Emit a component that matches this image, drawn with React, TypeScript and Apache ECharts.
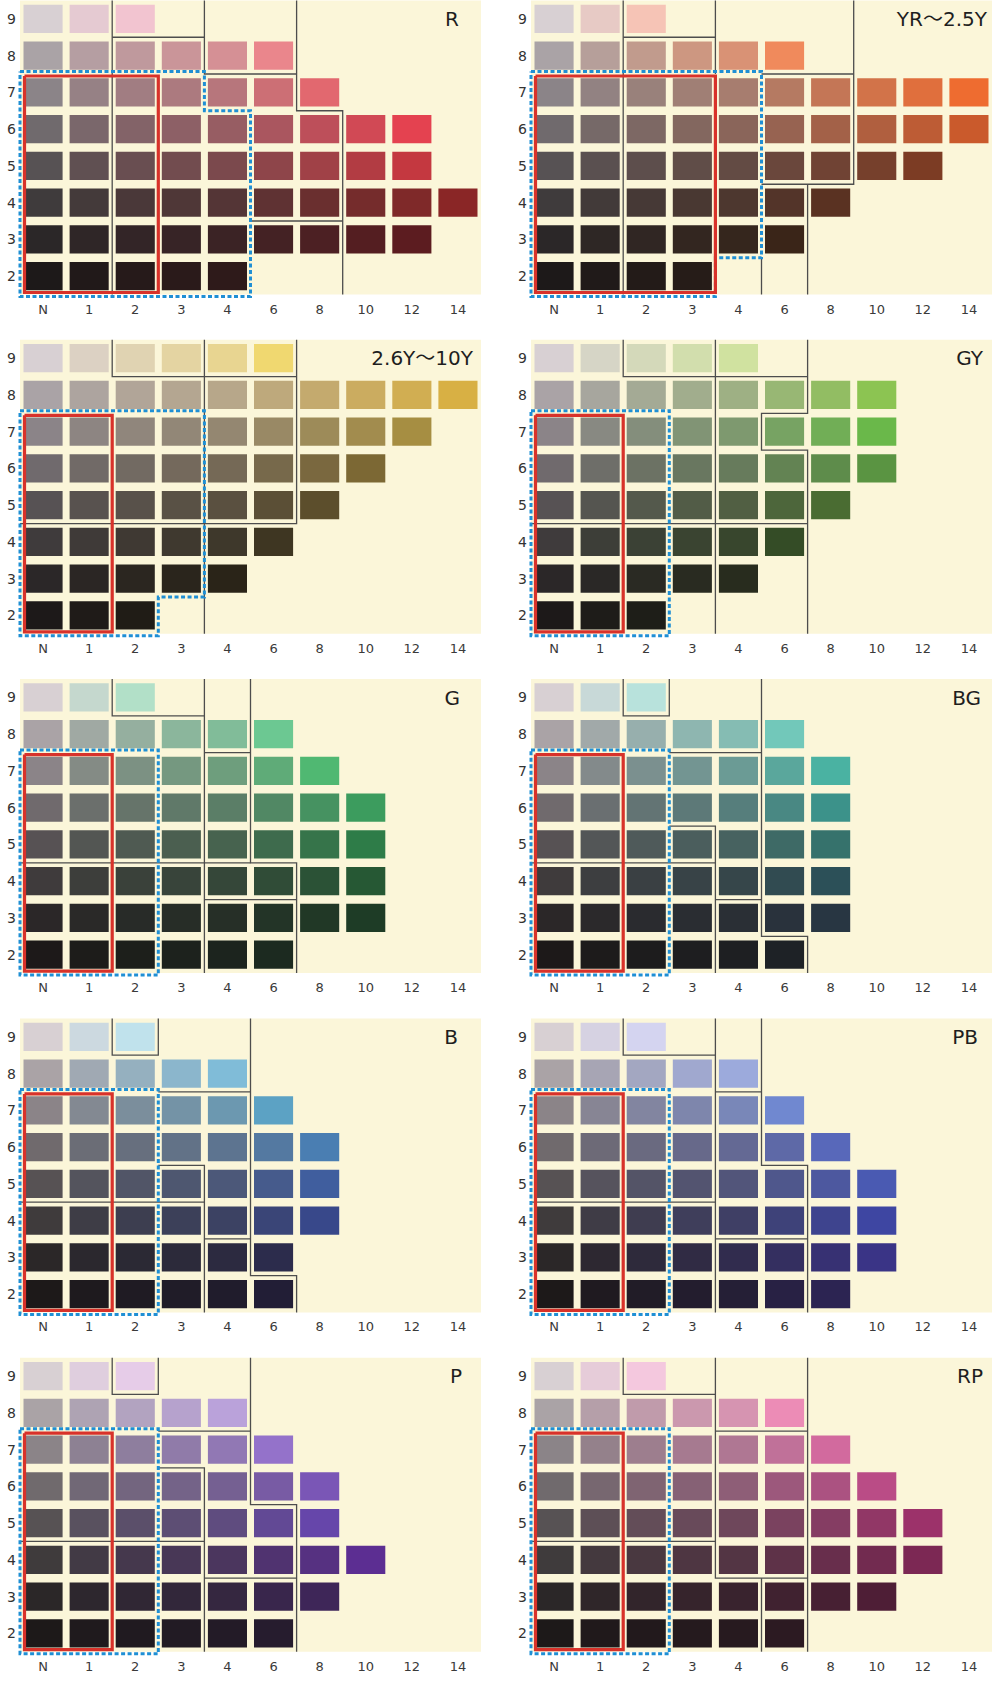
import React, { useEffect, useRef } from 'react';
import * as echarts from 'echarts';

// ---------- data ----------
const chromaLabels = ['N', '1', '2', '3', '4', '6', '8', '10', '12', '14'];
const chromaSteps = [0, 1, 2, 3, 4, 6, 8, 10, 12, 14];
const valueLevels = [9, 8, 7, 6, 5, 4, 3, 2];
const neutralColors = ['#d8d0d3', '#aaa3a6', '#8b8488', '#706a6d', '#575254', '#3f3b3c', '#2b2728', '#1d1919'];

const panelNames = ['R', 'YR～2.5Y', '2.6Y～10Y', 'GY', 'G', 'BG', 'B', 'PB', 'P', 'RP'];

// maximum chroma present for values 9..2
const maxChromaR = [2, 6, 8, 12, 12, 14, 12, 4];
const maxChromaYR = [2, 6, 14, 14, 12, 8, 6, 3];
const maxChromaY = [6, 14, 12, 10, 8, 6, 4, 2];
const maxChromaGY = [4, 10, 10, 10, 8, 6, 4, 2];
const maxChromaG = [2, 6, 8, 10, 10, 10, 10, 6];
const maxChromaBG = [2, 6, 8, 8, 8, 8, 8, 6];
const maxChromaB = [2, 4, 6, 8, 8, 8, 6, 6];
const maxChromaPB = [2, 4, 6, 8, 10, 10, 10, 8];
const maxChromaP = [2, 4, 6, 8, 8, 10, 8, 6];
const maxChromaRP = [2, 6, 8, 10, 12, 12, 10, 6];

// colour of the most saturated chip for values 9..2
const peakColorsR = ['#f2c4d0', '#ea868c', '#e2686f', '#e44250', '#c43840', '#8a2626', '#5c1c20', '#2e1a1a'];
const peakColorsYR = ['#f6c4b6', '#f08a5c', '#ee6c30', '#ca5a2c', '#7c3c24', '#5a3222', '#3a2518', '#261c18'];
const peakColorsY = ['#f0d870', '#d8b044', '#a68e42', '#7c6834', '#5c4e2c', '#3e3622', '#2a2418', '#201c16'];
const peakColorsGY = ['#d0e2a0', '#8cc452', '#6ab84a', '#5a9442', '#4a6c32', '#344c26', '#282c1e', '#1e1e18'];
const peakColorsG = ['#b2e0c8', '#6cc892', '#50b872', '#3c9c5e', '#2e7c48', '#265834', '#1e3c26', '#1c2a20'];
const peakColorsBG = ['#b8e2dc', '#72c8ba', '#4ab2a2', '#3c928a', '#36726c', '#2c5058', '#283642', '#1e2226'];
const peakColorsB = ['#c0e2ec', '#80bcd8', '#5ca2c4', '#4a7eb2', '#405e9e', '#38488a', '#2c2c4c', '#221e36'];
const peakColorsPB = ['#d4d4f0', '#9caadc', '#7088d0', '#5868ba', '#4a5ab2', '#3e46a2', '#3a3486', '#2c2452'];
const peakColorsP = ['#e6cce8', '#baa2da', '#9472ca', '#7a56b6', '#6646aa', '#5c2e92', '#3e2658', '#261c2e'];
const peakColorsRP = ['#f4c8de', '#ec8cb6', '#d26a9e', '#ba4c86', '#9c326a', '#7c2854', '#4e1e36', '#2c1a22'];

// red frame [x0, y0, x1, y1] in (chroma index, value) units
const redR = [-0.5, 1.5, 2.5, 7.5];
const redYR = [-0.5, 1.5, 3.5, 7.5];
const redNarrow = [-0.5, 1.5, 1.5, 7.5];

// blue dotted outline
const blueR = [[-0.5, 7.5], [3.5, 7.5], [3.5, 6.5], [4.5, 6.5], [4.5, 1.5], [-0.5, 1.5]];
const blueYR = [[-0.5, 7.5], [4.5, 7.5], [4.5, 2.5], [3.5, 2.5], [3.5, 1.5], [-0.5, 1.5]];
const blueY = [[-0.5, 7.5], [3.5, 7.5], [3.5, 2.5], [2.5, 2.5], [2.5, 1.5], [-0.5, 1.5]];
const blueRect = [[-0.5, 7.5], [2.5, 7.5], [2.5, 1.5], [-0.5, 1.5]];

// thin grey boundary lines
const linesR = [
  [[1.5, 9.5], [1.5, 1.5]],
  [[1.5, 8.5], [3.5, 8.5]],
  [[3.5, 9.5], [3.5, 7.5], [5.5, 7.5]],
  [[5.5, 9.5], [5.5, 6.5], [6.5, 6.5], [6.5, 1.5]],
  [[4.5, 3.5], [6.5, 3.5]],
];
const linesYR = [
  [[1.5, 9.5], [1.5, 1.5]],
  [[1.5, 8.5], [3.5, 8.5]],
  [[3.5, 9.5], [3.5, 7.5]],
  [[4.5, 7.5], [6.5, 7.5]],
  [[6.5, 9.5], [6.5, 4.5], [4.5, 4.5]],
  [[5.5, 4.5], [5.5, 1.5]],
  [[4.5, 2.5], [4.5, 1.5]],
];
const linesY = [
  [[1.5, 9.5], [1.5, 8.5], [5.5, 8.5]],
  [[3.5, 9.5], [3.5, 1.5]],
  [[5.5, 9.5], [5.5, 4.5], [-0.5, 4.5]],
];
const linesGY = [
  [[1.5, 9.5], [1.5, 8.5], [5.5, 8.5]],
  [[3.5, 9.5], [3.5, 1.5]],
  [[5.5, 9.5], [5.5, 7.5], [4.5, 7.5], [4.5, 6.5], [5.5, 6.5], [5.5, 1.5]],
  [[-0.5, 4.5], [5.5, 4.5]],
];
const linesG = [
  [[1.5, 9.5], [1.5, 8.5], [3.5, 8.5]],
  [[3.5, 9.5], [3.5, 1.5]],
  [[3.5, 7.5], [4.5, 7.5]],
  [[4.5, 9.5], [4.5, 4.5], [5.5, 4.5], [5.5, 1.5]],
  [[-0.5, 4.5], [4.5, 4.5]],
  [[3.5, 3.5], [5.5, 3.5]],
];
const linesBG = [
  [[1.5, 9.5], [1.5, 8.5], [2.5, 8.5], [2.5, 9.5]],
  [[2.5, 7.5], [4.5, 7.5]],
  [[4.5, 9.5], [4.5, 2.5], [5.5, 2.5], [5.5, 1.5]],
  [[2.5, 5.5], [3.5, 5.5], [3.5, 1.5]],
  [[-0.5, 4.5], [3.5, 4.5]],
  [[3.5, 3.5], [4.5, 3.5]],
];
const linesB = [
  [[1.5, 9.5], [1.5, 8.5], [2.5, 8.5], [2.5, 9.5]],
  [[2.5, 7.5], [4.5, 7.5]],
  [[4.5, 9.5], [4.5, 2.5], [5.5, 2.5], [5.5, 1.5]],
  [[2.5, 5.5], [3.5, 5.5], [3.5, 1.5]],
  [[-0.5, 4.5], [3.5, 4.5]],
  [[3.5, 3.5], [4.5, 3.5]],
];
const linesPB = [
  [[1.5, 9.5], [1.5, 8.5], [3.5, 8.5]],
  [[3.5, 9.5], [3.5, 1.5]],
  [[3.5, 7.5], [4.5, 7.5]],
  [[4.5, 9.5], [4.5, 5.5], [5.5, 5.5], [5.5, 1.5]],
  [[-0.5, 4.5], [3.5, 4.5]],
  [[3.5, 3.5], [5.5, 3.5]],
];
const linesP = [
  [[1.5, 9.5], [1.5, 8.5], [2.5, 8.5], [2.5, 9.5]],
  [[2.5, 7.5], [4.5, 7.5]],
  [[4.5, 9.5], [4.5, 5.5], [5.5, 5.5], [5.5, 1.5]],
  [[2.5, 6.5], [3.5, 6.5], [3.5, 1.5]],
  [[-0.5, 4.5], [3.5, 4.5]],
  [[3.5, 3.5], [5.5, 3.5]],
];
const linesRP = [
  [[1.5, 9.5], [1.5, 8.5], [3.5, 8.5]],
  [[3.5, 9.5], [3.5, 3.5], [5.5, 3.5]],
  [[3.5, 7.5], [5.5, 7.5]],
  [[5.5, 9.5], [5.5, 1.5]],
  [[-0.5, 4.5], [3.5, 4.5]],
  [[4.5, 3.5], [4.5, 1.5]],
];

const panels = [
  { maxC: maxChromaR, peak: peakColorsR, red: redR, blue: blueR, lines: linesR },
  { maxC: maxChromaYR, peak: peakColorsYR, red: redYR, blue: blueYR, lines: linesYR },
  { maxC: maxChromaY, peak: peakColorsY, red: redNarrow, blue: blueY, lines: linesY },
  { maxC: maxChromaGY, peak: peakColorsGY, red: redNarrow, blue: blueRect, lines: linesGY },
  { maxC: maxChromaG, peak: peakColorsG, red: redNarrow, blue: blueRect, lines: linesG },
  { maxC: maxChromaBG, peak: peakColorsBG, red: redNarrow, blue: blueRect, lines: linesBG },
  { maxC: maxChromaB, peak: peakColorsB, red: redNarrow, blue: blueRect, lines: linesB },
  { maxC: maxChromaPB, peak: peakColorsPB, red: redNarrow, blue: blueRect, lines: linesPB },
  { maxC: maxChromaP, peak: peakColorsP, red: redNarrow, blue: blueRect, lines: linesP },
  { maxC: maxChromaRP, peak: peakColorsRP, red: redNarrow, blue: blueRect, lines: linesRP },
];

// ---------- layout ----------
const GRID_LEFTS = [20, 531];
const GRID_TOPS = [0.5, 339.8, 679.1, 1018.4, 1357.7];
const GRID_W = 461;
const GRID_H = 294;
const NAME_INSETS = [22, 5, 8, 9, 21, 11, 23, 14, 19, 9];
const FONT = '"DejaVu Sans", "Noto Sans CJK JP", sans-serif';

function hexToRgb(h: string) {
  const n = parseInt(h.slice(1), 16);
  return [(n >> 16) & 255, (n >> 8) & 255, n & 255];
}
function mix(a: string, b: string, t: number) {
  const A = hexToRgb(a);
  const B = hexToRgb(b);
  const c = A.map((v, i) => Math.round(v + (B[i] - v) * t));
  return `rgb(${c[0]},${c[1]},${c[2]})`;
}
const isInt = (v: number) => Math.abs(v - Math.round(v)) < 1e-6;

function buildOption() {
  const grid: any[] = [];
  const xAxis: any[] = [];
  const yAxis: any[] = [];
  const series: any[] = [];
  const graphic: any[] = [];

  panels.forEach((p, i) => {
    const left = GRID_LEFTS[i % 2];
    const top = GRID_TOPS[Math.floor(i / 2)];
    grid.push({ left, top, width: GRID_W, height: GRID_H, show: true, backgroundColor: '#fbf6d9', borderWidth: 0 });
    xAxis.push({
      type: 'value', gridIndex: i, min: -0.5, max: 9.5, interval: 0.5,
      axisLine: { show: false }, axisTick: { show: false }, splitLine: { show: false },
      axisLabel: {
        margin: 8, fontSize: 13, color: '#3a3a3a', fontFamily: FONT,
        formatter: (v: number) => (isInt(v) ? chromaLabels[Math.round(v)] : ''),
      },
    });
    yAxis.push({
      type: 'value', gridIndex: i, min: 1.5, max: 9.5, interval: 0.5,
      axisLine: { show: false }, axisTick: { show: false }, splitLine: { show: false },
      axisLabel: {
        margin: 4, fontSize: 14, color: '#333', fontFamily: FONT,
        formatter: (v: number) => (isInt(v) ? String(Math.round(v)) : ''),
      },
    });

    // cells
    const cells: number[][] = [];
    const colors: string[] = [];
    valueLevels.forEach((v, r) => {
      const cmax = p.maxC[r];
      chromaSteps.forEach((c, ci) => {
        if (c <= cmax) {
          cells.push([ci, v]);
          colors.push(mix(neutralColors[r], p.peak[r], cmax > 0 ? c / cmax : 0));
        }
      });
    });
    series.push({
      type: 'custom', xAxisIndex: i, yAxisIndex: i, silent: true,
      encode: { x: 0, y: 1 },
      data: cells,
      renderItem: (params: any, api: any) => {
        const pt = api.coord([api.value(0), api.value(1)]);
        const s = api.size([1, 1]);
        const w = s[0] - 7;
        const h = s[1] - 8.5;
        return {
          type: 'rect',
          shape: { x: pt[0] - w / 2, y: pt[1] - h / 2, width: w, height: h },
          style: { fill: colors[params.dataIndex] },
        };
      },
    });

    // overlays: grey lines, blue dotted outline, red frame
    const overlays: { kind: number; pts: number[][] }[] = [];
    p.lines.forEach((l) => overlays.push({ kind: 0, pts: l }));
    overlays.push({ kind: 1, pts: [...p.blue, p.blue[0]] });
    const [x0, y0, x1, y1] = p.red;
    overlays.push({ kind: 2, pts: [[x0, y1], [x1, y1], [x1, y0], [x0, y0], [x0, y1]] });
    series.push({
      type: 'custom', xAxisIndex: i, yAxisIndex: i, silent: true,
      encode: { x: 0, y: 1 },
      data: overlays.map((o, k) => [o.pts[0][0], o.pts[0][1], k]),
      renderItem: (params: any, api: any) => {
        const o = overlays[params.dataIndex];
        const pts = o.pts.map(([x, y]) => {
          const q = api.coord([x, y]);
          if (o.kind === 1) {
            if (y >= 7.5) q[1] -= 2.5;
            if (y <= 1.5) q[1] += 2;
          } else if (o.kind === 2) {
            if (x <= -0.5) q[0] += 4.5;
            if (y >= 7.5) q[1] += 2;
            if (y <= 1.5) q[1] -= 2;
          }
          return q;
        });
        const style: any =
          o.kind === 0
            ? { stroke: '#4d4d4d', lineWidth: 1.3, fill: 'none' }
            : o.kind === 1
            ? { stroke: '#1f8fd4', lineWidth: 3, lineDash: [4, 2.5], fill: 'none' }
            : { stroke: '#d8322a', lineWidth: 3.2, fill: 'none', lineJoin: 'miter' };
        return { type: 'polyline', shape: { points: pts }, style };
      },
    });

    graphic.push({
      type: 'text',
      x: left + GRID_W - NAME_INSETS[i],
      y: top + 18.5,
      z: 100,
      style: {
        text: panelNames[i],
        align: 'right', textAlign: 'right',
        verticalAlign: 'middle', textVerticalAlign: 'middle',
        fontSize: 20, fontFamily: FONT, fill: '#1e1e1e',
      },
    });
  });

  return { animation: false, backgroundColor: '#ffffff', grid, xAxis, yAxis, series, graphic };
}

export default function App() {
  const ref = useRef<HTMLDivElement>(null);
  useEffect(() => {
    document.body.style.margin = '0';
    if (!ref.current) return;
    const chart = echarts.init(ref.current, undefined, { renderer: 'svg' });
    chart.setOption(buildOption() as any);
    return () => chart.dispose();
  }, []);
  return <div ref={ref} style={{ width: 995, height: 1683 }} />;
}
